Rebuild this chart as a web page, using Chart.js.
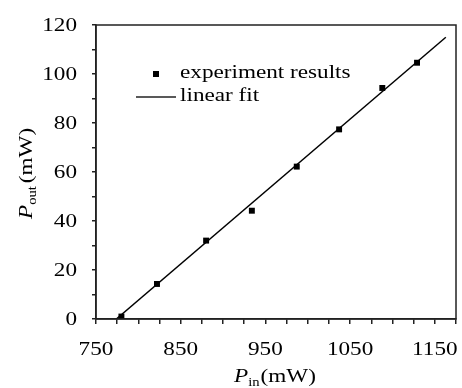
<!DOCTYPE html>
<html>
<head>
    <title>Pout vs Pin</title>
    <script src="https://cdn.jsdelivr.net/npm/chart.js"></script>
    <style>
        body { margin: 0; background: #fff; }
        #wrap { width: 462px; height: 388px; }
    </style>
</head>
<body>
    <div id="wrap"><canvas id="chart"></canvas></div>

    <script>
        // measured points (P_in, P_out) in mW
        var pIn = [780, 822, 880, 934, 987, 1037, 1088, 1129];
        var pOut = [1, 14.3, 32, 44.2, 62.2, 77.4, 94.3, 104.6];
        // linear fit end points
        var fitIn = [774, 1163];
        var fitOut = [0, 115];
        var xTicks = [750, 850, 950, 1050, 1150];
        var yTicks = [0, 20, 40, 60, 80, 100, 120];

        var serif = "'Liberation Serif', 'DejaVu Serif', serif";
        var stretch = 1.22; // the source lettering is wide

        var points = pIn.map(function (x, i) { return { x: x, y: pOut[i] }; });
        var fit = fitIn.map(function (x, i) { return { x: x, y: fitOut[i] }; });

        // draws text stretched horizontally around (x, y)
        function wideText(ctx, s, x, y, align) {
            var w = ctx.measureText(s).width * stretch;
            var left = align === "center" ? x - w / 2 : align === "right" ? x - w : x;
            ctx.save();
            ctx.translate(left, y);
            ctx.scale(stretch, 1);
            ctx.textAlign = "left";
            ctx.fillText(s, 0, 0);
            ctx.restore();
            return w;
        }

        // frame, tick labels, legend and axis titles with subscripts
        var extras = {
            id: "extras",
            afterDraw: function (chart) {
                var ctx = chart.ctx;
                var a = chart.chartArea;
                var xs = chart.scales.x, ys = chart.scales.y;
                var big = "19px " + serif;
                var bigI = "italic 19px " + serif;
                var small = "12px " + serif;
                ctx.save();
                ctx.strokeStyle = "#222";
                ctx.lineWidth = 1.5;
                ctx.strokeRect(a.left, a.top, a.right - a.left, a.bottom - a.top);
                ctx.fillStyle = "#000";

                // tick labels
                ctx.font = big;
                ctx.textBaseline = "middle";
                xTicks.forEach(function (v) {
                    wideText(ctx, String(v), xs.getPixelForValue(v), a.bottom + 31, "center");
                });
                yTicks.forEach(function (v) {
                    wideText(ctx, String(v), 77, ys.getPixelForValue(v) + 1, "right");
                });

                // legend
                ctx.fillRect(a.left + 57, a.top + 46, 6, 6);
                ctx.beginPath();
                ctx.moveTo(a.left + 40, a.top + 72);
                ctx.lineTo(a.left + 80, a.top + 72);
                ctx.stroke();
                wideText(ctx, "experiment results", a.left + 84, a.top + 48, "left");
                wideText(ctx, "linear fit", a.left + 84, a.top + 71, "left");

                // x title
                ctx.textBaseline = "alphabetic";
                var x0 = 234, y0 = 382;
                ctx.font = bigI; x0 += wideText(ctx, "P", x0, y0, "left");
                ctx.font = small; x0 += wideText(ctx, "in", x0, y0 + 4, "left") + 1;
                ctx.font = big; wideText(ctx, "(mW)", x0, y0, "left");

                // y title
                ctx.translate(32, 219);
                ctx.rotate(-Math.PI / 2);
                var t = 0;
                ctx.font = bigI; t += wideText(ctx, "P", t, 0, "left");
                ctx.font = small; t += wideText(ctx, "out", t, 4, "left") + 3;
                ctx.font = big; wideText(ctx, "(mW)", t, 0, "left");
                ctx.restore();
            }
        };

        var ctx = document.getElementById("chart").getContext("2d");
        var chart = new Chart(ctx, {
            type: "scatter",
            data: {
                datasets: [{
                    label: "experiment results",
                    data: points,
                    pointStyle: "rect",
                    pointRadius: 4.2,
                    backgroundColor: "#000",
                    borderColor: "#000",
                    borderWidth: 0
                }, {
                    label: "linear fit",
                    type: "line",
                    data: fit,
                    showLine: true,
                    pointRadius: 0,
                    borderColor: "#000",
                    borderWidth: 1.5,
                    fill: false
                }]
            },
            options: {
                responsive: true,
                maintainAspectRatio: false,
                animation: false,
                layout: { padding: { left: 0, right: 6, top: 25, bottom: 0 } },
                plugins: { legend: { display: false }, tooltip: { enabled: false } },
                scales: {
                    x: {
                        type: "linear",
                        min: 750,
                        max: 1175,
                        afterFit: function (s) { s.height = 69; },
                        afterBuildTicks: function (s) {
                            var t = [];
                            for (var v = 750; v <= 1175; v += 25) t.push({ value: v });
                            s.ticks = t;
                        },
                        border: { display: true, color: "#222", width: 1.5 },
                        grid: { drawOnChartArea: false, drawTicks: true, tickLength: 5, color: "#222", lineWidth: 1.5 },
                        ticks: { display: false, autoSkip: false }
                    },
                    y: {
                        min: 0,
                        max: 120,
                        afterFit: function (s) { s.width = 96; },
                        afterBuildTicks: function (s) {
                            var t = [];
                            for (var v = 0; v <= 120; v += 10) t.push({ value: v });
                            s.ticks = t;
                        },
                        border: { display: true, color: "#222", width: 1.5 },
                        grid: { drawOnChartArea: false, drawTicks: true, tickLength: 4, color: "#222", lineWidth: 1.5 },
                        ticks: { display: false, autoSkip: false }
                    }
                }
            },
            plugins: [extras]
        });
    </script>
</body>
</html>
